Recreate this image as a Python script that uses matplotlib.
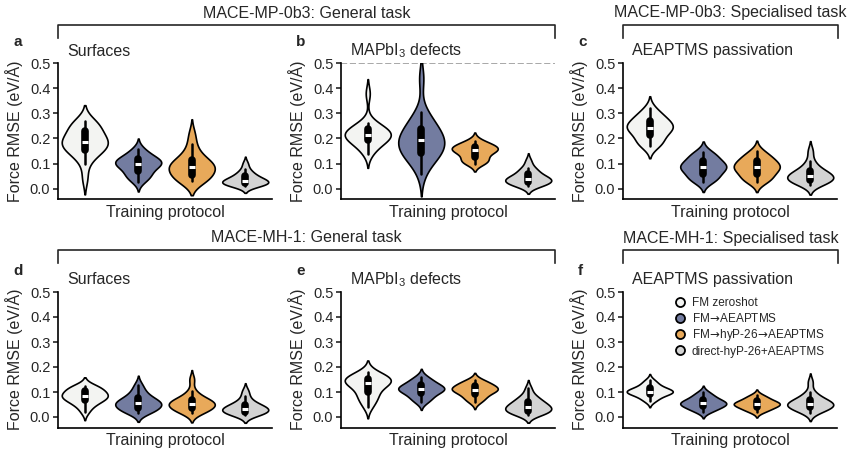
import numpy as np
import pandas as pd
import matplotlib
matplotlib.use("Agg")
import matplotlib.pyplot as plt
from matplotlib.lines import Line2D
from matplotlib import cbook
import seaborn as sns

plt.rcParams['font.family'] = ['Liberation Sans', 'DejaVu Sans']
plt.rcParams['mathtext.fontset'] = 'custom'
plt.rcParams['mathtext.rm'] = 'Liberation Sans'
plt.rcParams['mathtext.sf'] = 'DejaVu Sans'
plt.rcParams['text.color'] = '#262626'
plt.rcParams['axes.labelcolor'] = '#262626'
plt.rcParams['ytick.color'] = '#262626'

protocols = ["FM zeroshot", "FM→AEAPTMS", "FM→hyP-26→AEAPTMS", "direct-hyP-26+AEAPTMS"]
arrow = r"$\!\mathsf{\rightarrow}\!$"
legend_labels = ["FM zeroshot", "FM" + arrow + "AEAPTMS",
                 "FM" + arrow + "hyP-26" + arrow + "AEAPTMS", "direct-hyP-26+AEAPTMS"]
colours = ['#f3f4f2', '#737ca0', '#e8a95a', '#d3d3d3']

# force RMSE per structure (eV/Å), one list per training protocol
# MACE-MP-0b3
mp_surfaces = [
    [0.04, 0.10, 0.13, 0.145, 0.15, 0.155, 0.165, 0.175, 0.18, 0.185, 0.19, 0.195, 0.2, 0.21, 0.225, 0.24, 0.245, 0.255, 0.265, 0.27],
    [0.028, 0.04, 0.05, 0.055, 0.065, 0.075, 0.085, 0.09, 0.095, 0.1, 0.102, 0.105, 0.11, 0.115, 0.12, 0.125, 0.135, 0.145, 0.16],
    [0.03, 0.032, 0.035, 0.04, 0.05, 0.06, 0.07, 0.078, 0.082, 0.086, 0.09, 0.095, 0.1, 0.11, 0.12, 0.13, 0.15, 0.18, 0.22],
    [0.01, 0.012, 0.015, 0.017, 0.02, 0.022, 0.025, 0.028, 0.03, 0.032, 0.035, 0.04, 0.045, 0.05, 0.057, 0.065, 0.077, 0.1],
]
mp_defects = [
    [0.14, 0.16, 0.175, 0.185, 0.19, 0.2, 0.205, 0.21, 0.212, 0.215, 0.22, 0.225, 0.23, 0.24, 0.245, 0.25, 0.263, 0.38],
    [0.06, 0.11, 0.12, 0.13, 0.14, 0.145, 0.16, 0.17, 0.18, 0.19, 0.195, 0.2, 0.21, 0.22, 0.235, 0.25, 0.26, 0.28, 0.305, 0.44],
    [0.1, 0.105, 0.11, 0.115, 0.125, 0.135, 0.145, 0.15, 0.153, 0.155, 0.158, 0.162, 0.168, 0.172, 0.176, 0.182, 0.192],
    [0.01, 0.014, 0.017, 0.02, 0.025, 0.03, 0.033, 0.036, 0.038, 0.04, 0.045, 0.05, 0.058, 0.067, 0.075, 0.084, 0.11],
]
mp_aeaptms = [
    [0.17, 0.18, 0.185, 0.2, 0.215, 0.225, 0.235, 0.24, 0.243, 0.248, 0.255, 0.262, 0.27, 0.28, 0.29, 0.3, 0.32],
    [0.027, 0.035, 0.04, 0.05, 0.06, 0.07, 0.078, 0.082, 0.086, 0.09, 0.095, 0.1, 0.11, 0.12, 0.128, 0.138, 0.147],
    [0.027, 0.033, 0.04, 0.048, 0.06, 0.07, 0.076, 0.08, 0.085, 0.09, 0.096, 0.102, 0.11, 0.118, 0.126, 0.136, 0.15],
    [0.015, 0.02, 0.025, 0.03, 0.035, 0.038, 0.042, 0.046, 0.05, 0.053, 0.058, 0.064, 0.07, 0.077, 0.09, 0.11, 0.15],
]
# MACE-MH-1
mh_surfaces = [
    [0.02, 0.04, 0.05, 0.06, 0.065, 0.07, 0.075, 0.08, 0.083, 0.086, 0.09, 0.095, 0.1, 0.105, 0.112, 0.118, 0.122, 0.126],
    [0.016, 0.02, 0.024, 0.03, 0.036, 0.042, 0.046, 0.05, 0.053, 0.056, 0.06, 0.065, 0.07, 0.076, 0.085, 0.095, 0.11, 0.13],
    [0.016, 0.022, 0.026, 0.03, 0.036, 0.042, 0.047, 0.05, 0.053, 0.056, 0.06, 0.064, 0.069, 0.074, 0.085, 0.103, 0.15],
    [0.007, 0.01, 0.013, 0.017, 0.021, 0.025, 0.028, 0.031, 0.033, 0.036, 0.04, 0.045, 0.05, 0.056, 0.065, 0.083, 0.105],
]
mh_defects = [
    [0.04, 0.06, 0.075, 0.085, 0.095, 0.11, 0.12, 0.13, 0.135, 0.138, 0.142, 0.146, 0.15, 0.155, 0.16, 0.165, 0.172, 0.181],
    [0.06, 0.07, 0.078, 0.088, 0.095, 0.102, 0.107, 0.11, 0.112, 0.115, 0.118, 0.122, 0.128, 0.135, 0.142, 0.15, 0.161],
    [0.06, 0.07, 0.078, 0.086, 0.094, 0.1, 0.105, 0.108, 0.11, 0.113, 0.116, 0.12, 0.125, 0.13, 0.136, 0.142, 0.148],
    [0.01, 0.013, 0.016, 0.02, 0.025, 0.03, 0.034, 0.037, 0.04, 0.044, 0.05, 0.056, 0.062, 0.068, 0.078, 0.088, 0.115],
]
mh_aeaptms = [
    [0.064, 0.072, 0.08, 0.088, 0.093, 0.096, 0.098, 0.1, 0.102, 0.104, 0.107, 0.11, 0.115, 0.12, 0.128, 0.137, 0.147],
    [0.02, 0.027, 0.033, 0.038, 0.043, 0.047, 0.05, 0.053, 0.055, 0.058, 0.061, 0.065, 0.07, 0.076, 0.082, 0.09, 0.1],
    [0.02, 0.027, 0.032, 0.037, 0.042, 0.046, 0.049, 0.051, 0.053, 0.056, 0.059, 0.063, 0.068, 0.074, 0.08, 0.088],
    [0.018, 0.024, 0.03, 0.035, 0.04, 0.044, 0.047, 0.05, 0.052, 0.055, 0.059, 0.064, 0.07, 0.076, 0.085, 0.1, 0.14],
]

W, H = 855, 457
fig = plt.figure(figsize=(W / 100, H / 100), dpi=100)

def px(x, y):
    return x / W, 1 - y / H

# label, subtitle, data, left px, top px (y of 0.5)
panels = [
    ('a', 'Surfaces', mp_surfaces, 58, 63.5),
    ('b', 'MAPbI$_3$ defects', mp_defects, 341, 63.5),
    ('c', 'AEAPTMS passivation', mp_aeaptms, 623, 63.5),
    ('d', 'Surfaces', mh_surfaces, 58, 292),
    ('e', 'MAPbI$_3$ defects', mh_defects, 341, 292),
    ('f', 'AEAPTMS passivation', mh_aeaptms, 623, 292),
]
ax_w, ax_h = 214, 135.5
ylo = -0.042

axes = {}
for lab, sub, data, left, top in panels:
    ax = fig.add_axes([left / W, 1 - (top + ax_h) / H, ax_w / W, ax_h / H])
    axes[lab] = ax
    df = pd.DataFrame({
        'protocol': np.repeat(protocols, [len(d) for d in data]),
        'rmse': np.concatenate(data),
    })
    sns.violinplot(data=df, x='protocol', y='rmse', hue='protocol', order=protocols,
                   hue_order=protocols, palette=colours, saturation=1, inner=None, cut=2,
                   density_norm='width', width=0.86, linewidth=1.2, linecolor='black',
                   legend=False, ax=ax)
    # inner box: whiskers, quartile bar, white median dash
    for i, d in enumerate(data):
        st = cbook.boxplot_stats(np.array(d))[0]
        ax.plot([i, i], [st['whislo'], st['whishi']], color='black', lw=1.8,
                solid_capstyle='round', zorder=3)
        ax.plot([i, i], [st['q1'], st['q3']], color='black', lw=5.5,
                solid_capstyle='round', zorder=3)
        ax.plot(i, st['med'], marker='_', color='white', markersize=5, mew=2.2, zorder=4)
    ax.set_xlim(-0.5, 3.5)
    ax.set_ylim(ylo, 0.5)
    ax.set_yticks([0, 0.1, 0.2, 0.3, 0.4, 0.5])
    ax.set_yticklabels(['0.0', '0.1', '0.2', '0.3', '0.4', '0.5'], fontsize=10.5)
    ax.set_xticks([])
    ax.set_xlabel('Training protocol', fontsize=11.5, labelpad=4)
    ax.set_ylabel('Force RMSE (eV/Å)', fontsize=11.5, labelpad=5)
    ax.spines[['top', 'right']].set_visible(False)
    ax.spines[['left', 'bottom']].set_linewidth(1.2)
    ax.tick_params(axis='y', length=3.5, width=1.2, pad=2)
    ax.patch.set_alpha(0)
    fig.text(*px(left - 45, top - 21), lab, fontsize=11, fontweight='bold', ha='left', va='center')
    fig.text(*px(left + 9, top - 12.5), sub, fontsize=11.5, ha='left', va='center')

axes['b'].axhline(0.5, color='#999999', ls='--', lw=1.2, zorder=0)

def bracket(x0, x1, y, title):
    fig.add_artist(Line2D([x0 / W, x0 / W, x1 / W, x1 / W],
                          [1 - (y + 13) / H, 1 - y / H, 1 - y / H, 1 - (y + 13) / H],
                          color='#262626', lw=1.2, transform=fig.transFigure))
    fig.text(*px((x0 + x1) / 2, y - 12), title, fontsize=11.5, ha='center', va='center')

bracket(58, 555, 25, 'MACE-MP-0b3: General task')
bracket(623, 838, 25, 'MACE-MP-0b3: Specialised task')
bracket(58, 555, 250, 'MACE-MH-1: General task')
bracket(623, 838, 250, 'MACE-MH-1: Specialised task')

handles = [Line2D([], [], ls='none', marker='o', markersize=6.5, markerfacecolor=c,
                  markeredgecolor='black', markeredgewidth=1.3, label=p)
           for p, c in zip(legend_labels, colours)]
axes['f'].legend(handles=handles, loc='upper left', bbox_to_anchor=(0.238, 0.96),
                 frameon=False, fontsize=8.5, handlelength=1, handletextpad=0.5,
                 labelspacing=0.2, borderpad=0, borderaxespad=0)

fig.savefig('out.png', dpi=100)
